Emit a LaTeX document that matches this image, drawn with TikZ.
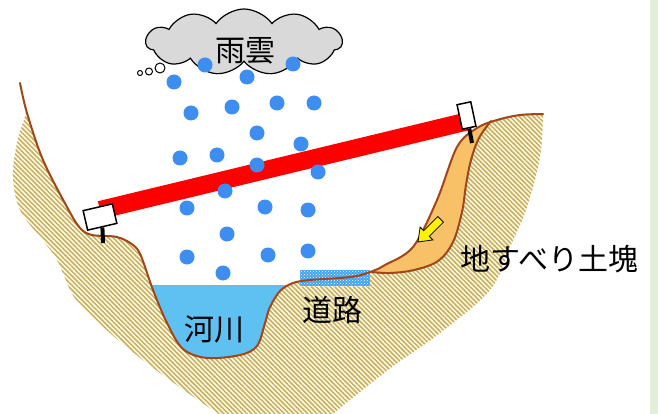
\documentclass[tikz,border=0pt]{standalone}
\usepackage{fontspec}
\newfontfamily\jpfont{Noto Sans CJK JP}
\usetikzlibrary{patterns,patterns.meta,shapes.symbols}
\definecolor{soilline}{HTML}{A0461A}
\definecolor{soilhatch}{HTML}{C8AE58}
\definecolor{soilbase}{HTML}{FFFBEA}
\definecolor{waterblue}{HTML}{5FC0F2}
\definecolor{rainblue}{HTML}{3D8EF0}
\definecolor{slidefill}{HTML}{F8C067}
\definecolor{roadblue}{HTML}{3FA3F0}
\definecolor{cloudgray}{HTML}{D9D9D9}
\definecolor{sidegreen}{HTML}{E2F0D9}
\begin{document}
\begin{tikzpicture}[x=1pt,y=-1pt,
  surface/.style={insert path={plot[smooth,tension=0.55] coordinates {
    (20,83) (27,113) (43,160) (67,207) (80,228) (92,235) (117,237) (133,245)
    (141,256) (153,290) (167,323) (183,349) (207,358) (240,355) (257,346)
    (265,323) (270,307) (280,291) (293,283) (310,280) (340,278) (357,276)
    (373,271) (385,265) (413,247) (437,200) (457,147) (477,128) (497,120)
    (520,115) (543,114)}}},
  soil/.style={line width=2pt, draw=soilline, line join=round, line cap=round},
  jplabel/.style={font=\jpfont\fontsize{30}{30}\selectfont, inner sep=0pt},
  raindrop/.style={fill=rainblue},
  sensor/.style={draw=black, line width=1.5pt, fill=white, inner sep=0pt},
  post/.style={line width=4pt, draw=black},
  laser/.style={line width=18pt, draw=red},
]
\useasboundingbox (0,0) rectangle (658,414);
\fill[white] (0,0) rectangle (658,414);
\fill[sidegreen] (650,0) rectangle (658,414);

% ground body with diagonal hatching
\path[preaction={fill=soilbase},
      pattern={Lines[angle=-45,distance=3.3pt,line width=1.5pt]},
      pattern color=soilhatch]
  [surface]
  -- plot[smooth,tension=0.6] coordinates {(543,114) (540,157) (527,207)
       (510,247) (490,290) (440,333) (392,367) (350,400) (333,414)}
  -- (219,414)
  -- plot[smooth,tension=0.6] coordinates {(219,414) (198,400) (152,367)
       (110,333) (76,300) (57,260) (40,237) (20,210) (13,177) (17,143) (26,114)}
  -- cycle;

% river water
\begin{scope}
  \clip (100,285) rectangle (330,414);
  \fill[waterblue] [surface] -- (543,0) -- (20,0) -- cycle;
\end{scope}

% landslide block, bounded by the surface and the slip plane
\begin{scope}
  \clip [surface] -- (543,414) -- (20,414) -- cycle;
  \fill[slidefill] plot[smooth,tension=0.6] coordinates {(492,119) (479,138)
      (471,160) (466,185) (462,212) (453,242) (438,261) (414,270) (390,273)
      (368,272)} -- (360,240) -- (440,90) -- (500,90) -- cycle;
\end{scope}
\draw[soil] plot[smooth,tension=0.6] coordinates {(491,121) (479,138)
    (471,160) (466,185) (462,212) (453,242) (438,261) (414,270) (390,273)
    (372,272)};

% road
\node[minimum width=70pt, minimum height=16pt, inner sep=0pt, fill=roadblue,
      postaction={pattern=crosshatch dots, pattern color=white}]
  (road) at (335,278) {};

% ground surface line
\draw[soil] [surface];

% movement arrow of the block
\filldraw[fill=yellow, draw=black, line width=0.8pt, line join=miter]
  (418,242) -- (432.9,239.9) -- (429.3,236.3) -- (443.4,222.2)
  -- (437.8,216.6) -- (423.7,230.7) -- (420.1,227.1) -- cycle;

% laser beam between the two instruments
\coordinate (lmount) at (100,217);
\coordinate (rmount) at (466.5,115.5);
\coordinate (lfoot) at (103,243);
\coordinate (rfoot) at (472,143);
\draw[laser] ([yshift=7pt]lmount) -- ([yshift=-6pt]rmount);
\node[sensor, rotate=13, minimum width=30pt, minimum height=20pt] (lbox) at (lmount) {};
\node[sensor, rotate=12, minimum width=14pt, minimum height=25pt] (rbox) at (rmount) {};
\draw[post] (lbox.south) -- (lfoot);
\draw[post] (rbox.south) -- (rfoot);

% rain cloud
\node[cloud, cloud puffs=11, cloud puff arc=110, aspect=2.9, draw=black,
      line width=1.2pt, fill=cloudgray, minimum width=196pt, minimum height=66pt,
      inner sep=0pt] (cloud) at (244,42) {};
\foreach \cx/\cy/\r in {140/73/2.5, 149/71.5/3.5, 160/68/5}
  \filldraw[fill=white, draw=black, line width=1pt] (\cx,\cy) circle[radius=\r];

% raindrops
\foreach \dx/\dy in {174/82, 205/65, 247/77, 293/64,
    191/113, 232/107, 277/103, 314/103, 257/133, 301/144,
    180/158, 217/155, 257/165, 318/172, 225/191,
    187/208, 265/207, 308/210, 227/234,
    187/257, 268/255, 308/251, 223/273}
  \fill[raindrop] (\dx,\dy) circle[radius=7.5];

% labels
\node[jplabel] (kumo) at (245,51) {雨雲};
\node[jplabel] (kasen) at (214,329) {河川};
\node[jplabel] (doro) at (332,310) {道路};
\node[jplabel, anchor=west] (jisuberi) at (460,259) {地すべり土塊};
\end{tikzpicture}
\end{document}
